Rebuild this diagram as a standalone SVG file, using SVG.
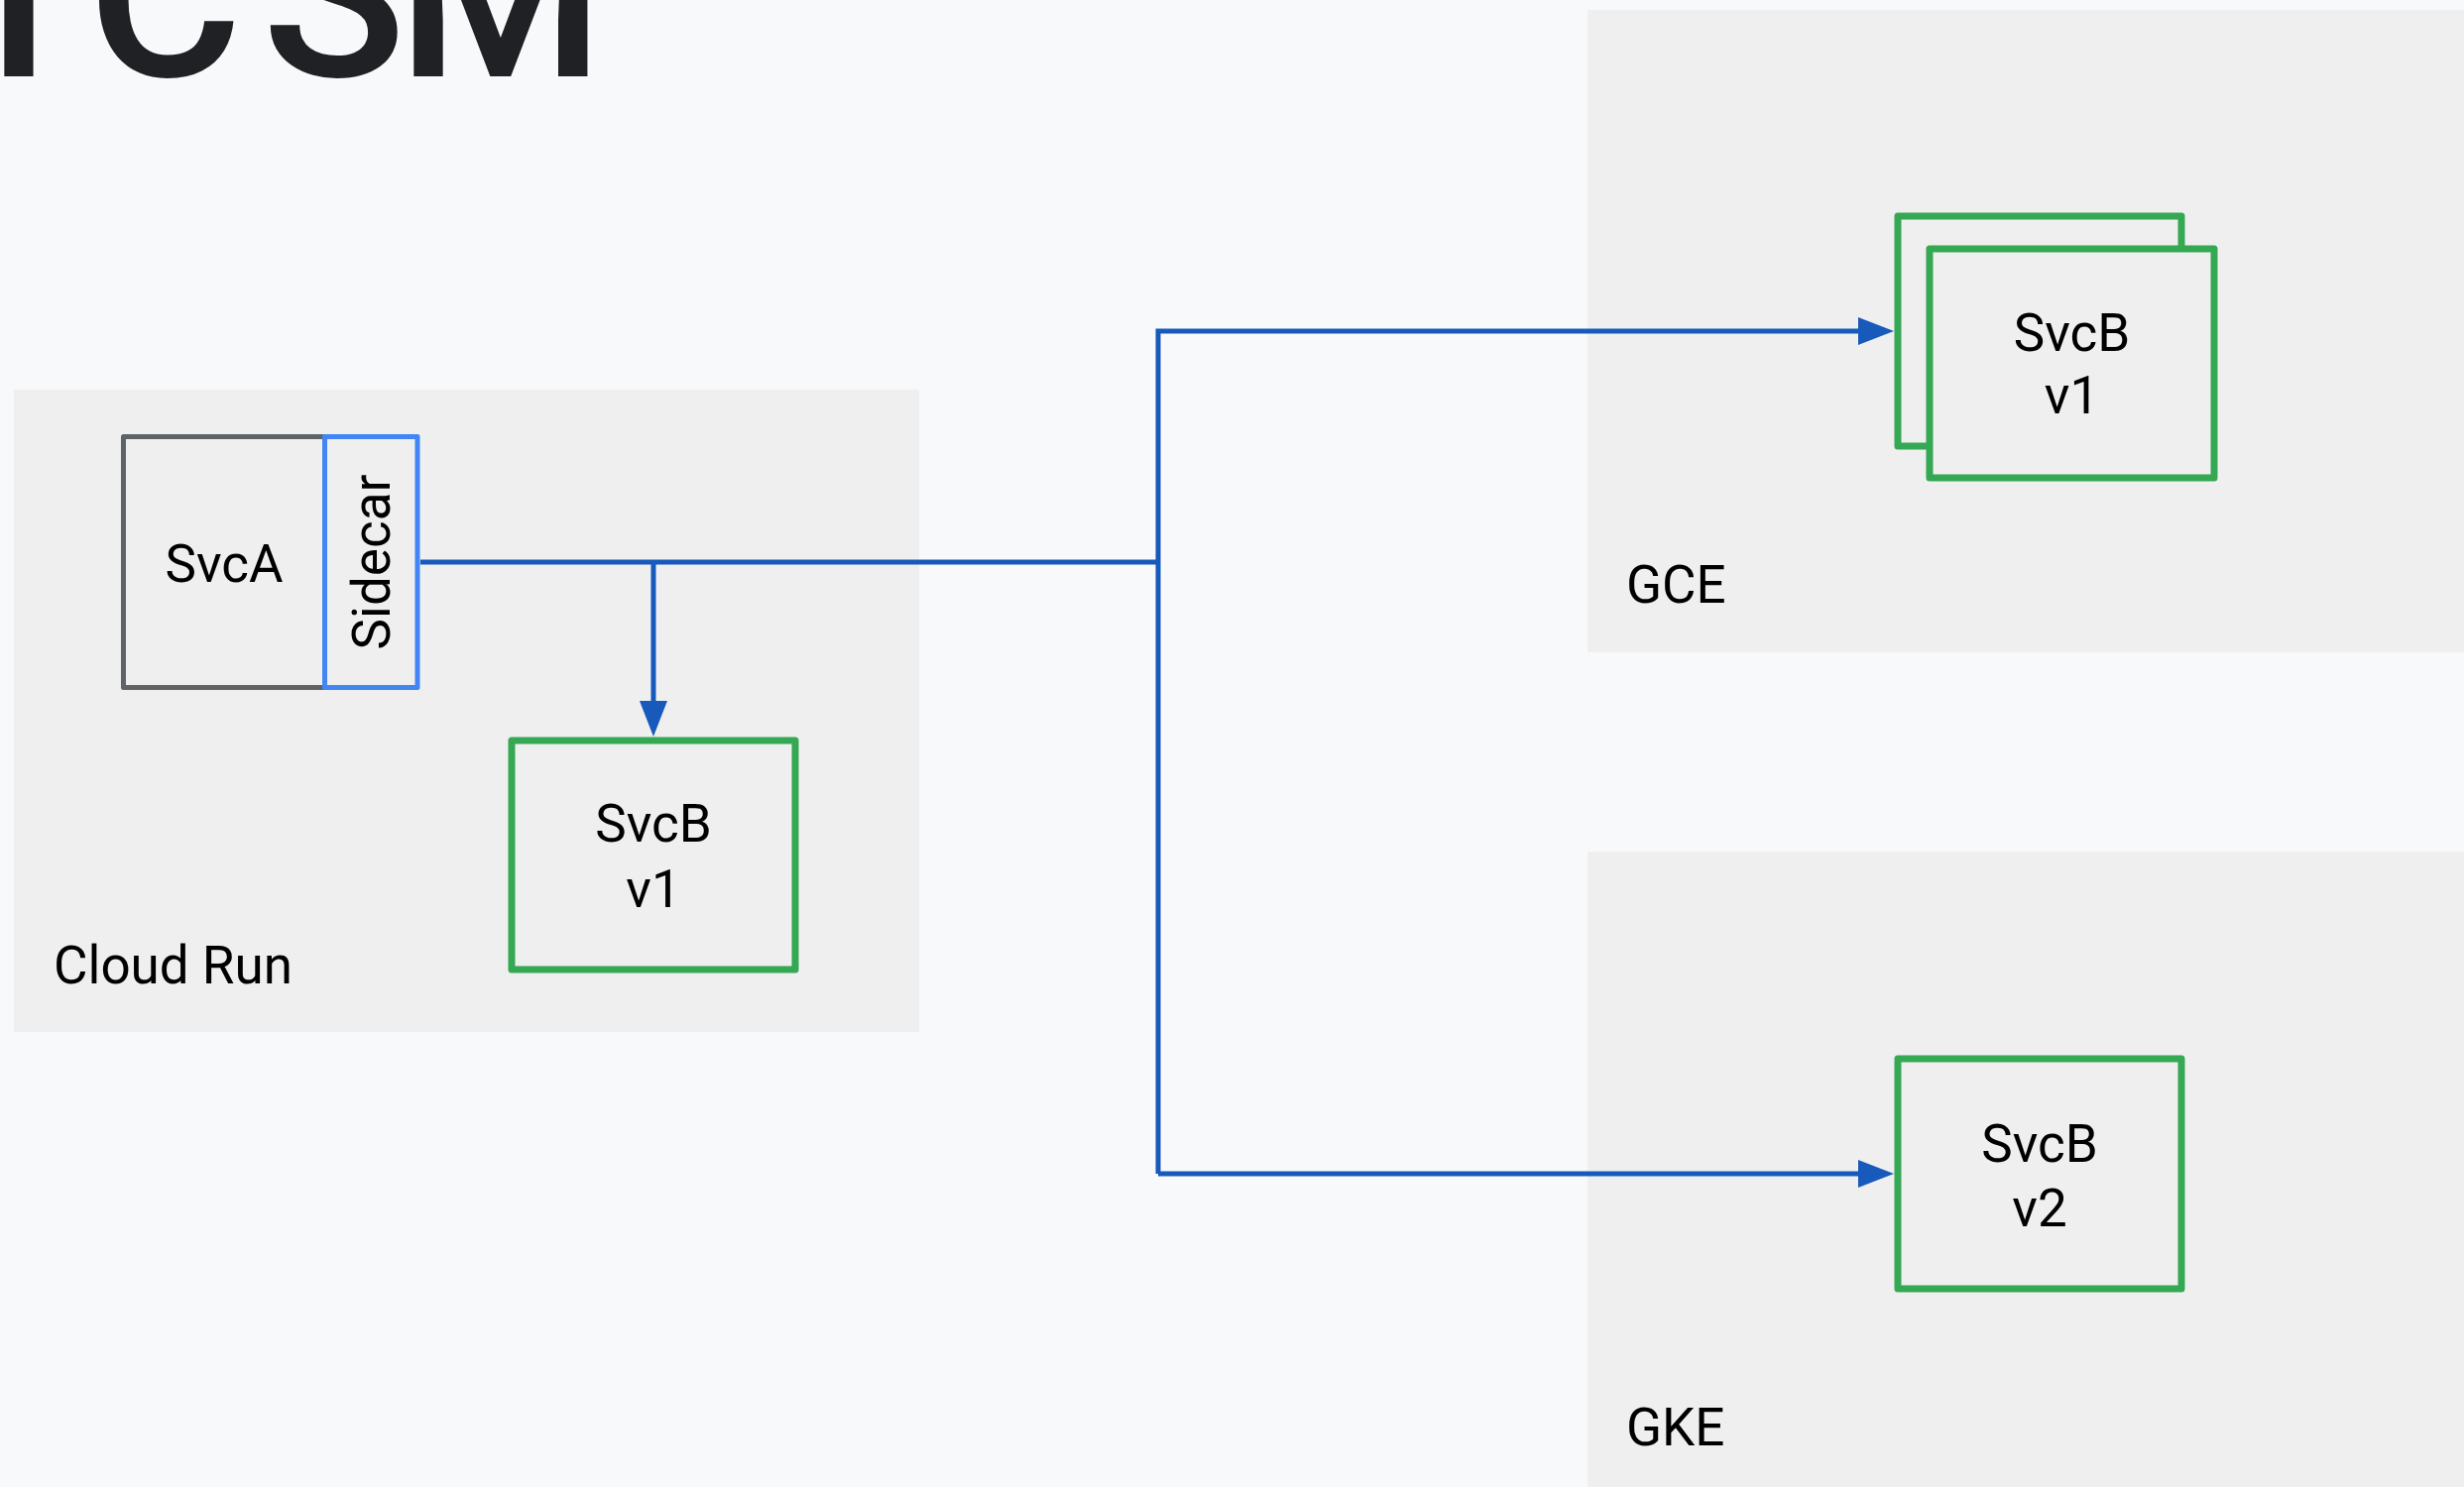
<svg xmlns="http://www.w3.org/2000/svg" width="2485" height="1500" viewBox="0 0 2485 1500">
<defs>
<style>
.lbl{font-family:Roboto,"Liberation Sans",sans-serif;font-size:53px;fill:#000;}
.ctr{text-anchor:middle;}
.panel{fill:#efefef;}
.svcb{fill:none;stroke:#34a853;stroke-width:7;stroke-linejoin:round;}
.conn{fill:none;stroke:#185abc;stroke-width:5;}
.title{font-family:Roboto,"Liberation Sans",sans-serif;font-size:240px;font-weight:500;fill:#202124;}
</style>
<marker id="arr" viewBox="0 0 36 28" refX="0" refY="14" markerWidth="36" markerHeight="28" markerUnits="userSpaceOnUse" orient="auto">
<path d="M0,0 L36,14 L0,28 Z" fill="#185abc"/>
</marker>
</defs>
<rect x="0" y="0" width="2485" height="1500" fill="#f8f9fa"/>
<text class="title" y="77"><tspan x="-54">T</tspan><tspan x="88">C</tspan><tspan x="264">S</tspan><tspan x="400">M</tspan></text>

<g id="cloudrun">
<rect class="panel" x="14" y="393" width="913" height="648"/>
<text class="lbl" x="54" y="992">Cloud Run</text>
</g>
<g id="gce">
<rect class="panel" x="1601" y="10" width="884" height="648"/>
<text class="lbl" x="1640" y="608">GCE</text>
</g>
<g id="gke">
<rect class="panel" x="1601" y="859" width="884" height="641"/>
<text class="lbl" x="1640" y="1458">GKE</text>
</g>

<g id="connectors">
<path class="conn" d="M424,567 H1168"/>
<path class="conn" d="M659,567 V707" marker-end="url(#arr)"/>
<path class="conn" d="M1168,1184 V334 H1874" marker-end="url(#arr)"/>
<path class="conn" d="M1168,1184 H1874" marker-end="url(#arr)"/>
</g>

<g id="svca">
<rect x="124.5" y="440.5" width="203" height="253" fill="none" stroke="#5f6368" stroke-width="5" stroke-linejoin="round"/>
<text class="lbl ctr" x="226" y="587">SvcA</text>
</g>
<g id="sidecar">
<rect x="327.5" y="440.5" width="93.5" height="253" fill="none" stroke="#4285f4" stroke-width="5" stroke-linejoin="round"/>
<text class="lbl ctr" x="374" y="586" transform="rotate(-90 374 567)">Sidecar</text>
</g>
<g id="svcb-cr">
<rect class="svcb" x="516" y="747" width="286" height="231"/>
<text class="lbl ctr" x="659" y="849">SvcB</text>
<text class="lbl ctr" x="659" y="915">v1</text>
</g>
<g id="svcb-gce">
<rect class="svcb" x="1914" y="218" width="286" height="232"/>
<rect x="1946" y="251" width="287" height="231" fill="#efefef" stroke="#34a853" stroke-width="7" stroke-linejoin="round"/>
<text class="lbl ctr" x="2089.5" y="354">SvcB</text>
<text class="lbl ctr" x="2089.5" y="417">v1</text>
</g>
<g id="svcb-gke">
<rect class="svcb" x="1914" y="1068" width="286" height="232"/>
<text class="lbl ctr" x="2057" y="1172">SvcB</text>
<text class="lbl ctr" x="2057" y="1237">v2</text>
</g>
</svg>
